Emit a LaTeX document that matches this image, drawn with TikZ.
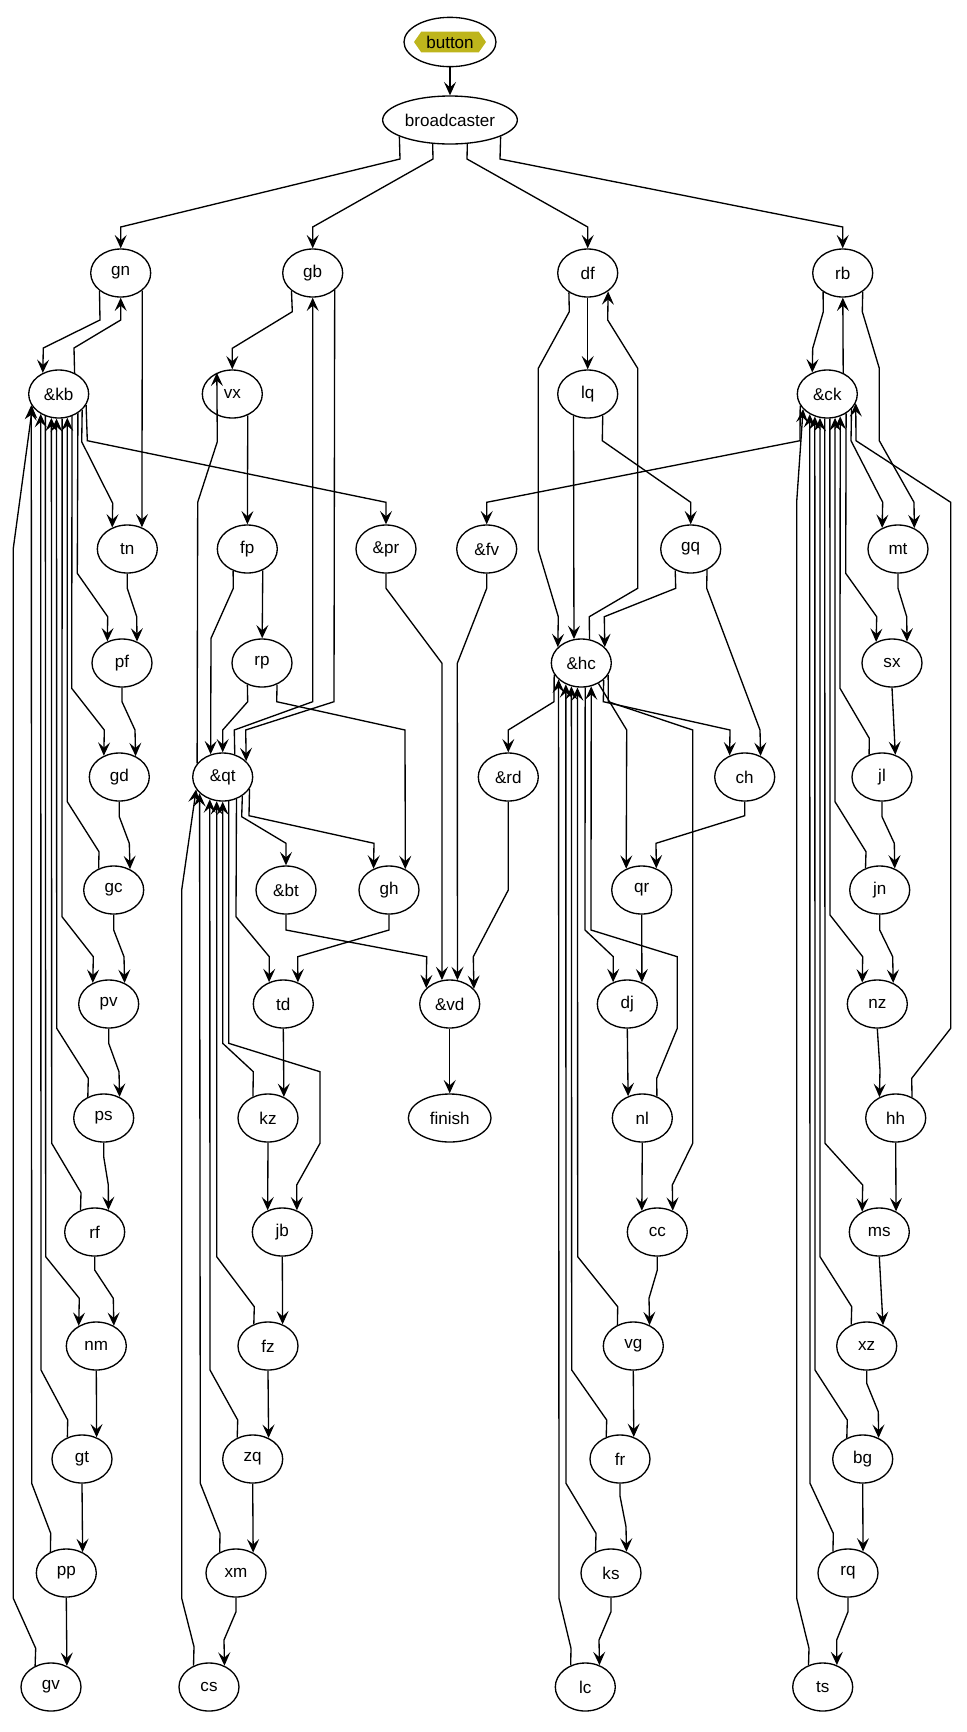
\documentclass[tikz,border=0pt]{standalone}
\usepackage{fontspec}
\setmainfont{Liberation Sans}
\usetikzlibrary{arrows.meta,shapes.geometric,shapes.symbols}
\definecolor{tagfill}{RGB}{190,181,28}

\begin{document}
\begin{tikzpicture}[
  x=0.75pt, y=-0.75pt,
  font=\fontsize{12.8}{15}\selectfont,
  >={Stealth[length=10pt, width=9pt, inset=4pt]},
  mod/.style={draw, ellipse, line width=1pt, minimum width=45pt, minimum height=36pt, inner sep=0pt},
  tag/.style={signal, signal to=west and east, signal pointer angle=110, fill=tagfill, minimum width=54pt, minimum height=15.5pt, inner sep=0pt},
  wire/.style={->, line width=1pt}
]
\useasboundingbox (0,0) rectangle (967,1732);

\node[mod, minimum width=69pt, minimum height=37pt] (button) at (450,42) {};
\node[tag] (buttontag) at (button.center) {button};
\node[mod, minimum width=101pt] (bc) at (450,120) {broadcaster};

\node[mod] (gn) at (120.7,273) {gn};
\node[mod] (gb) at (312.7,273) {gb};
\node[mod] (df) at (587.7,273) {df};
\node[mod] (rb) at (842.7,273) {rb};

\node[mod] (kb) at (58.7,394) {\&kb};
\node[mod] (vx) at (232.3,394) {vx};
\node[mod] (lq) at (587.7,394) {lq};
\node[mod] (ck) at (827.3,394) {\&ck};

\node[mod] (tn) at (127.3,549) {tn};
\node[mod] (fp) at (247.3,549) {fp};
\node[mod] (pr) at (386,549) {\&pr};
\node[mod] (fv) at (486.7,549) {\&fv};
\node[mod] (gq) at (690.7,549) {gq};
\node[mod] (mt) at (898,549) {mt};

\node[mod] (pf) at (122,663) {pf};
\node[mod] (rp) at (262,663) {rp};
\node[mod] (hc) at (581.3,663) {\&hc};
\node[mod] (sx) at (892,663) {sx};

\node[mod] (gd) at (119.3,777) {gd};
\node[mod] (qt) at (222.7,777) {\&qt};
\node[mod] (rd) at (508.3,777) {\&rd};
\node[mod] (ch) at (744.7,777) {ch};
\node[mod] (jl) at (882,777) {jl};

\node[mod] (gc) at (113.7,890) {gc};
\node[mod] (bt) at (286,890) {\&bt};
\node[mod] (gh) at (389,890) {gh};
\node[mod] (qr) at (641.7,890) {qr};
\node[mod] (jn) at (879.7,890) {jn};

\node[mod] (pv) at (108.7,1004) {pv};
\node[mod] (td) at (283.3,1004) {td};
\node[mod] (vd) at (449.7,1004) {\&vd};
\node[mod] (dj) at (627.3,1004) {dj};
\node[mod] (nz) at (877.3,1004) {nz};

\node[mod] (ps) at (103.7,1118) {ps};
\node[mod] (kz) at (268,1118) {kz};
\node[mod, minimum width=62pt] (finish) at (449.7,1118) {finish};
\node[mod] (nl) at (642.3,1118) {nl};
\node[mod] (hh) at (895.7,1118) {hh};

\node[mod] (rf) at (94.7,1232) {rf};
\node[mod] (jb) at (282.3,1232) {jb};
\node[mod] (cc) at (657.3,1232) {cc};
\node[mod] (ms) at (879.3,1232) {ms};

\node[mod] (nm) at (96.3,1346) {nm};
\node[mod] (fz) at (268,1346) {fz};
\node[mod] (vg) at (633.3,1346) {vg};
\node[mod] (xz) at (866.7,1346) {xz};

\node[mod] (gt) at (82,1459) {gt};
\node[mod] (zq) at (252.7,1459) {zq};
\node[mod] (fr) at (620,1459) {fr};
\node[mod] (bg) at (862.7,1459) {bg};

\node[mod] (pp) at (66.3,1573) {pp};
\node[mod] (xm) at (236,1573) {xm};
\node[mod] (ks) at (611,1573) {ks};
\node[mod] (rq) at (848,1573) {rq};

\node[mod] (gv) at (51,1687) {gv};
\node[mod] (cs) at (209,1687) {cs};
\node[mod] (lc) at (585.3,1687) {lc};
\node[mod] (ts) at (822.7,1687) {ts};

\draw[wire] (button) -- (bc);
\draw[wire] (bc.198) -- (400,159) -- (120.7,227) -- (gn);
\draw[wire] (bc.234) -- (433,159) -- (312.7,227) -- (gb);
\draw[wire] (bc.306) -- (467,159) -- (587.7,227) -- (df);
\draw[wire] (bc.342) -- (500,159) -- (842.7,227) -- (rb);

\draw[wire] (gn.220) -- (100,320) -- (43.3,348) -- (kb.127);
\draw[wire] (kb.53) -- (74,348) -- (120.7,320) -- (gn);
\draw[wire] (gn.321) -- (tn.56);
\draw[wire] (kb.326) -- (81.7,441.7) -- (112.7,503.3) -- (tn.125);
\draw[wire] (kb.338) -- (87.3,440.7) -- (386,502.3) -- (pr);
\draw[wire] (kb.315) -- (77.3,573.3) -- (107.7,616.7) -- (pf.124);
\draw[wire] (tn.south) -- (127.3,588.3) -- (136.7,616.7) -- (pf.55);
\draw[wire] (kb.301) -- (71.7,688.3) -- (104.3,730) -- (gd.126);
\draw[wire] (pf.south) -- (122,701.7) -- (135,730) -- (gd.52);
\draw[wire] (gd.south) -- (119.3,816.7) -- (129.3,843.3) -- (gc.52);
\draw[wire] (gc.125) -- (99,851.7) -- (67.3,801.7) -- (kb.290);
\draw[wire] (kb.278) -- (62,916.7) -- (93.3,956.7) -- (pv.127);
\draw[wire] (gc.south) -- (113.7,930) -- (124,956.7) -- (pv.53);
\draw[wire] (pv.south) -- (108.7,1043.3) -- (119,1071.7) -- (ps.53);
\draw[wire] (ps.127) -- (88.3,1078.3) -- (56.7,1028.3) -- (kb.265);
\draw[wire] (ps.south) -- (103.7,1156.7) -- (108.3,1185) -- (rf.58);
\draw[wire] (rf.123) -- (81,1192.7) -- (51.7,1143.3) -- (kb.253);
\draw[wire] (rf.south) -- (94.7,1270) -- (113.3,1298.3) -- (nm.49);
\draw[wire] (kb.239) -- (45.7,1256.7) -- (79.3,1298.3) -- (nm.131);
\draw[wire] (nm.south) -- (gt.56);
\draw[wire] (gt.124) -- (67.7,1420) -- (41,1370) -- (kb.228);
\draw[wire] (gt.south) -- (pp.52);
\draw[wire] (pp.127) -- (50.7,1533.3) -- (31.7,1483.3) -- (kb.202);
\draw[wire] (pp.south) -- (gv.53);
\draw[wire] (gv.127) -- (35.7,1648.3) -- (13.3,1598.3) -- (13.3,548.3) -- (kb.206);

\draw[wire] (gb.220) -- (292.3,311.7) -- (232.3,348.3) -- (vx);
\draw[wire] (qt.62) -- (234.3,730) -- (312.7,701.7) -- (gb);
\draw[wire] (gb.322) -- (334,701.7) -- (245.7,730) -- (qt.34);
\draw[wire] (vx.306) -- (fp);
\draw[wire] (qt.152) -- (197.7,502.3) -- (217.3,441.7) -- (vx.126);
\draw[wire] (fp.306) -- (rp);
\draw[wire] (fp.237) -- (233.3,588.3) -- (211,638.3) -- (qt.118);
\draw[wire] (rp.236) -- (247.7,701.7) -- (222.7,730) -- (qt);
\draw[wire] (rp.305) -- (276.7,701.7) -- (405,730) -- (gh.52);
\draw[wire] (qt.316) -- (241.7,816.7) -- (286,843.3) -- (bt);
\draw[wire] (qt.336) -- (249,815.7) -- (374,843.3) -- (gh.126);
\draw[wire] (qt.302) -- (236,916.7) -- (269.3,956.7) -- (td.123);
\draw[wire] (gh.south) -- (389,930) -- (297.7,956.7) -- (td.56);
\draw[wire] (td.south) -- (kz.53);
\draw[wire] (kz.125) -- (253.3,1071.7) -- (222.7,1043.3) -- (qt.270);
\draw[wire] (qt.284) -- (228.7,1043.3) -- (320,1071.7) -- (320,1143.3) -- (296.7,1185) -- (jb.56);
\draw[wire] (kz.south) -- (jb.124);
\draw[wire] (jb.south) -- (fz.56);
\draw[wire] (fz.123) -- (254.3,1306.7) -- (216.7,1256.7) -- (qt.256);
\draw[wire] (fz.south) -- (zq.53);
\draw[wire] (zq.126) -- (237.7,1420) -- (210,1370) -- (qt.240);
\draw[wire] (zq.south) -- (xm.50);
\draw[wire] (xm.128) -- (220,1533.3) -- (200.3,1483.3) -- (qt.215);
\draw[wire] (xm.south) -- (236,1611.7) -- (224,1640) -- (cs.54);
\draw[wire] (cs.126) -- (194,1646.7) -- (181.7,1598.3) -- (181.7,890) -- (qt.205);

\draw[wire] (pr.south) -- (386,588.3) -- (442,663.3) -- (vd.108);
\draw[wire] (fv.south) -- (486.7,588.3) -- (457.3,663.3) -- (vd.72);
\draw[wire] (bt.south) -- (286,930) -- (426.7,956.7) -- (vd.146);
\draw[wire] (rd.south) -- (508.3,890) -- (473.3,956.7) -- (vd.32);
\draw[wire] (vd) -- (finish);

\draw[wire] (df.226) -- (569.3,311.7) -- (538.3,368.3) -- (538.3,550) -- (558.3,616.7) -- (hc.146);
\draw[wire] (df) -- (lq);
\draw[wire] (hc.71) -- (589.3,616.7) -- (637.7,588.3) -- (637.7,368.3) -- (607.7,320) -- (df.318);
\draw[wire] (lq.237) -- (hc.107);
\draw[wire] (lq.305) -- (602.3,440.7) -- (690.7,502.3) -- (gq);
\draw[wire] (gq.234) -- (675.7,588.3) -- (604.3,616.7) -- (hc.34);
\draw[wire] (gq.308) -- (706.7,588.3) -- (760,730) -- (ch.53);
\draw[wire] (hc.203) -- (554,701.7) -- (508.3,730) -- (rd);
\draw[wire] (hc.310) -- (626.7,730) -- (qr.126);
\draw[wire] (hc.323) -- (603.3,701.7) -- (730,730) -- (ch.125);
\draw[wire] (hc.336) -- (608.3,701.7) -- (692.7,730) -- (692.7,1143.3) -- (672.3,1185) -- (cc.54);
\draw[wire] (ch.south) -- (744.7,815.7) -- (656,843.3) -- (qr.56);
\draw[wire] (qr.south) -- (dj.56);
\draw[wire] (hc.279) -- (585,930) -- (613.3,956.7) -- (dj.123);
\draw[wire] (nl.56) -- (656.7,1078.3) -- (677.3,1028.3) -- (677.3,956.7) -- (591,930) -- (hc.293);
\draw[wire] (dj.south) -- (nl.123);
\draw[wire] (nl.south) -- (cc.126);
\draw[wire] (cc.south) -- (657.3,1270) -- (649,1298.3) -- (vg.52);
\draw[wire] (vg.127) -- (617.7,1306.7) -- (577.7,1256.7) -- (hc.261);
\draw[wire] (vg.south) -- (fr.58);
\draw[wire] (fr.122) -- (606.7,1420) -- (571.7,1370) -- (hc.247);
\draw[wire] (fr.south) -- (620,1496) -- (626,1526.7) -- (ks.54);
\draw[wire] (ks.126) -- (596,1533.3) -- (566,1483.3) -- (hc.234);
\draw[wire] (ks.south) -- (611,1611.7) -- (599,1640) -- (lc.57);
\draw[wire] (lc.124) -- (571,1648.3) -- (559,1598.3) -- (hc.216);

\draw[wire] (rb.224) -- (823.3,311.7) -- (812.7,348.3) -- (ck.125);
\draw[wire] (ck.53) -- (rb);
\draw[wire] (rb.317) -- (862.3,311.7) -- (879.3,368.3) -- (879.3,440.7) -- (914,502.3) -- (mt.52);
\draw[wire] (ck.203) -- (800,440.7) -- (486.7,502.3) -- (fv);
\draw[wire] (ck.328) -- (851,440.7) -- (882.7,502.3) -- (mt.127);
\draw[wire] (ck.314) -- (845.7,573.3) -- (876.7,616.7) -- (sx.127);
\draw[wire] (mt.south) -- (898,588.3) -- (906.7,616.7) -- (sx.55);
\draw[wire] (sx.south) -- (jl.59);
\draw[wire] (jl.120) -- (869.3,738.3) -- (840,688.3) -- (ck.300);
\draw[wire] (jl.south) -- (882,816.7) -- (894.3,843.3) -- (jn.55);
\draw[wire] (jn.123) -- (866,851.7) -- (835,801.7) -- (ck.288);
\draw[wire] (ck.276) -- (830,915) -- (862.7,956.7) -- (nz.125);
\draw[wire] (jn.south) -- (879.7,930) -- (892.7,956.7) -- (nz.53);
\draw[wire] (nz.south) -- (880,1070) -- (hh.128);
\draw[wire] (hh.52) -- (911.7,1078.3) -- (950.7,1028.3) -- (950.7,502.3) -- (856,440.7) -- (ck.342);
\draw[wire] (ck.264) -- (825,1143.3) -- (862.7,1185) -- (ms.130);
\draw[wire] (hh.south) -- (ms.51);
\draw[wire] (ms.south) -- (xz.52);
\draw[wire] (xz.126) -- (851.7,1306.7) -- (820,1256.7) -- (ck.253);
\draw[wire] (xz.south) -- (866.7,1383.3) -- (878.3,1411.7) -- (bg.53);
\draw[wire] (bg.127) -- (847.3,1420) -- (815,1370) -- (ck.241);
\draw[wire] (bg.south) -- (rq.55);
\draw[wire] (rq.125) -- (833.3,1533.3) -- (810,1483.3) -- (ck.229);
\draw[wire] (rq.south) -- (848,1611.7) -- (836.7,1640) -- (ts.57);
\draw[wire] (ts.123) -- (809,1648.3) -- (796.7,1598.3) -- (796.7,501.7) -- (ck.212);

\end{tikzpicture}
\end{document}
